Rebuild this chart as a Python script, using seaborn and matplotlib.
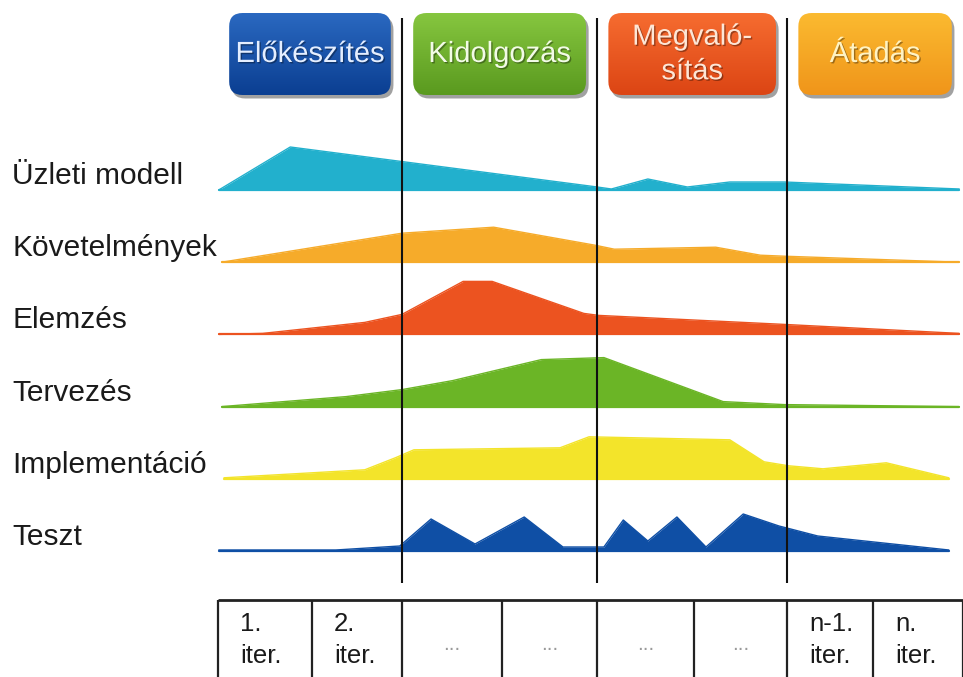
import numpy as np
import pandas as pd
import matplotlib
matplotlib.use("Agg")
import matplotlib.pyplot as plt
import seaborn as sns
from matplotlib.patches import FancyBboxPatch
from matplotlib.colors import LinearSegmentedColormap
import matplotlib.patheffects as pe

# ---------------- data ----------------
activities = ["Üzleti modell", "Követelmények", "Elemzés", "Tervezés",
              "Implementáció", "Teszt"]
activity_colors = ["#22b0cd", "#f6ab2a", "#ec5320", "#6bb526", "#f3e42a", "#0f4fa5"]

phases = ["Előkészítés", "Kidolgozás", "Megvaló-\nsítás", "Átadás"]
phase_edges = [0, 24.7, 50.9, 76.4, 100]          # % of project timeline
phase_top = ["#2a68c0", "#86c63f", "#f66c30", "#fbba30"]
phase_bottom = ["#0b3f92", "#5a9a1f", "#dc4514", "#f0951a"]
phase_text = ["#e4eeff", "#f2fbe6", "#fde6d6", "#fff3c4"]

iteration_labels = ["1.\niter.", "2.\niter.", "...", "...", "...", "...",
                    "n-1.\niter.", "n.\niter."]
iteration_edges = [0, 12.6, 24.7, 38.1, 50.9, 63.9, 76.4, 87.9, 100]

# effort curves: x = % of timeline, h = relative effort
biz_x = [0.1, 9.7, 50.9, 52.8, 57.7, 63.0, 68.7, 76.0, 99.5]
biz_h = [0.0, 4.3, 0.3, 0.1, 1.1, 0.3, 0.8, 0.8, 0.1]

req_x = [0.5, 24.7, 37.0, 50.6, 53.2, 66.8, 72.8, 76.0, 99.5]
req_h = [0.0, 2.9, 3.5, 1.7, 1.3, 1.5, 0.7, 0.6, 0.0]

ana_x = [0.1, 6.0, 19.7, 24.7, 32.9, 36.8, 49.1, 51.1, 76.0, 99.5]
ana_h = [0.0, 0.1, 1.2, 2.0, 5.3, 5.3, 2.1, 1.9, 1.0, 0.1]

des_x = [0.5, 17.2, 24.7, 31.5, 43.4, 51.8, 67.8, 76.0, 99.5]
des_h = [0.0, 1.0, 1.7, 2.6, 4.7, 4.9, 0.5, 0.2, 0.0]

imp_x = [0.8, 19.7, 23.8, 26.3, 45.9, 49.8, 68.7, 73.3, 76.6, 81.2, 89.7, 98.1]
imp_h = [0.1, 0.9, 2.1, 2.9, 3.1, 4.2, 3.9, 1.7, 1.3, 1.0, 1.6, 0.1]

test_x = [0.1, 15.8, 24.4, 28.6, 34.5, 41.1, 46.3, 51.8, 54.4, 57.7, 61.6,
          65.5, 70.5, 75.3, 80.5, 98.1]
test_h = [0.1, 0.1, 0.5, 3.2, 0.7, 3.4, 0.4, 0.4, 3.1, 1.0, 3.4, 0.4, 3.7,
          2.5, 1.5, 0.1]

curves_x = [biz_x, req_x, ana_x, des_x, imp_x, test_x]
curves_h = [biz_h, req_h, ana_h, des_h, imp_h, test_h]

# ---------------- style ----------------
sns.set_theme(style="white")
plt.rcParams["font.family"] = ["Liberation Sans", "DejaVu Sans"]

W, H = 963, 677
fig = plt.figure(figsize=(W / 100, H / 100), dpi=100)
ax = fig.add_axes([0, 0, 1, 1])
PXX = 7.45                      # pixels per x unit
X0 = 218                        # pixel of x = 0
xlim = (-X0 / PXX, (W - X0) / PXX)
ylim = (0, H / 10)

# row baselines
top_base, step = 48.7, 7.22
bases = [top_base - step * i for i in range(len(activities))]

rows = []
for name, base, xs, hs in zip(activities, bases, curves_x, curves_h):
    for x, h in zip(xs, hs):
        rows.append({"activity": name, "x": x, "h": h, "y": base + h, "base": base})
df = pd.DataFrame(rows)

for name, color in zip(activities, activity_colors):
    d = df[df.activity == name]
    ax.fill_between(d.x, d.base, d.y, color=color, lw=0, zorder=2)
    ax.plot([d.x.iloc[0], d.x.iloc[-1]], [d.base.iloc[0]] * 2, color=color,
            lw=1.6, zorder=2)

sns.lineplot(data=df, x="x", y="y", hue="activity", palette=activity_colors,
             hue_order=activities, estimator=None, sort=False, legend=False,
             lw=1.0, ax=ax, zorder=3)

# activity labels
for name, base in zip(activities, bases):
    ax.text(-27.65, base + 0.6, name, ha="left", va="baseline",
            fontsize=21.5, color="#1a1a1a")

# phase separators
ax.vlines(phase_edges[1:-1], 9.4, 65.9, color="#111111", lw=1.5, zorder=5)

# phase boxes
by0, by1 = 58.2, 66.4
for i, label in enumerate(phases):
    x0 = phase_edges[i] + 1.5
    x1 = phase_edges[i + 1] - 1.5
    shadow = FancyBboxPatch((x0 + 0.35, by0 - 0.35), x1 - x0, by1 - by0,
                            boxstyle="round,pad=0,rounding_size=1.8",
                            mutation_aspect=PXX / 10, fc="#555555", ec="none",
                            alpha=0.55, zorder=6)
    ax.add_patch(shadow)
    box = FancyBboxPatch((x0, by0), x1 - x0, by1 - by0,
                         boxstyle="round,pad=0,rounding_size=1.8",
                         mutation_aspect=PXX / 10, fc="none", ec="none", zorder=7)
    ax.add_patch(box)
    cmap = LinearSegmentedColormap.from_list("g", [phase_bottom[i], phase_top[i]])
    grad = np.linspace(1, 0, 64).reshape(-1, 1)
    im = ax.imshow(grad, extent=[x0, x1, by0, by1], cmap=cmap, aspect="auto",
                   origin="upper", zorder=7, interpolation="bilinear")
    im.set_clip_path(box)
    ax.text((x0 + x1) / 2, (by0 + by1) / 2, label, ha="center", va="center",
            fontsize=21, color=phase_text[i], linespacing=1.3, zorder=8,
            path_effects=[pe.withSimplePatchShadow(offset=(1, -1),
                                                   shadow_rgbFace="#000000",
                                                   alpha=0.35)])

# iteration table
ty = 7.7
ax.hlines(ty, iteration_edges[0], iteration_edges[-1], color="#222222", lw=2.0, zorder=5)
ax.vlines(iteration_edges, -1, ty, color="#222222", lw=1.6, zorder=5)
for i, lab in enumerate(iteration_labels):
    l, r = iteration_edges[i], iteration_edges[i + 1]
    if lab == "...":
        ax.text((l + r) / 2, 3.2, lab, ha="center", va="center", fontsize=15,
                color="#9a9a9a")
    else:
        ax.text(l + 3.0, 6.5, lab, ha="left", va="top", fontsize=18.5,
                color="#1a1a1a", linespacing=1.4)

ax.set_xlim(*xlim)
ax.set_ylim(*ylim)
ax.axis("off")
fig.savefig("out.png", dpi=100, facecolor="white")
